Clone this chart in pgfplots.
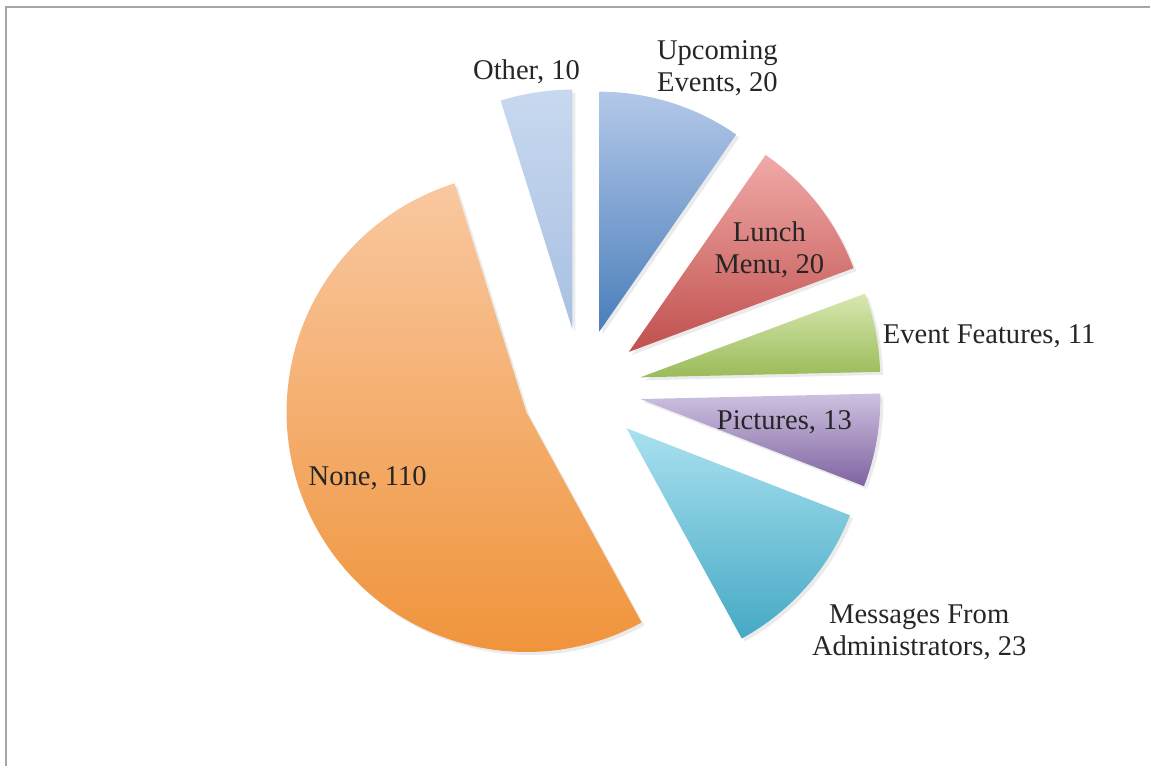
\documentclass[border=0pt]{standalone}
\usepackage{pgfplots}
\pgfplotsset{compat=1.18}
\usepackage{fontspec}
\setmainfont{Liberation Serif}

\definecolor{upT}{HTML}{B3C8E8}\definecolor{upB}{HTML}{4A7EBB}
\definecolor{luT}{HTML}{F0AAA8}\definecolor{luB}{HTML}{C0504D}
\definecolor{evT}{HTML}{D7E8B0}\definecolor{evB}{HTML}{9BBB59}
\definecolor{piT}{HTML}{CDC1E0}\definecolor{piB}{HTML}{7F63A1}
\definecolor{meT}{HTML}{A9E1F0}\definecolor{meB}{HTML}{45A9C4}
\definecolor{noT}{HTML}{F9C8A0}\definecolor{noB}{HTML}{EF9034}
\definecolor{otT}{HTML}{C8D8EF}\definecolor{otB}{HTML}{A8C0E2}
\definecolor{txt}{HTML}{262626}
\definecolor{frame}{HTML}{A6A6A6}

% exploded slice: apex moved 60 units out along the bisector, radius 240 units (=120pt)
\newcommand\slicepath[2]{(axis cs:{582+60*cos((#1+#2)/2)},{378+60*sin((#1+#2)/2)}) -- ++(#1:120pt) arc[start angle=#1,end angle=#2,radius=120pt] -- cycle}

\begin{document}
\begin{tikzpicture}
% values, clockwise from 12 o'clock
\def\vUp{20}\def\vLu{20}\def\vEv{11}\def\vPi{13}\def\vMe{23}\def\vNo{110}\def\vOt{10}
\pgfmathsetmacro\tot{\vUp+\vLu+\vEv+\vPi+\vMe+\vNo+\vOt}
\pgfmathsetmacro\aA{90}
\pgfmathsetmacro\aB{\aA-\vUp/\tot*360}
\pgfmathsetmacro\aC{\aB-\vLu/\tot*360}
\pgfmathsetmacro\aD{\aC-\vEv/\tot*360}
\pgfmathsetmacro\aE{\aD-\vPi/\tot*360}
\pgfmathsetmacro\aF{\aE-\vMe/\tot*360}
\pgfmathsetmacro\aG{\aF-\vNo/\tot*360}
\pgfmathsetmacro\aH{\aG-\vOt/\tot*360}
\begin{axis}[
	scale only axis,
	width=575.5pt,
	height=383.5pt,
	xmin=0, xmax=1151,
	ymin=0, ymax=767,
	hide axis,
	clip=false
	]
	\path (axis cs:0,0) rectangle (axis cs:1151,767);
	\draw[frame,line width=1pt] (axis cs:6,0) -- (axis cs:6,760) -- (axis cs:1151,760);

	% soft shadows
	\fill[black,opacity=0.08,xshift=1.5pt,yshift=-1.5pt] \slicepath{\aA}{\aB};
	\fill[black,opacity=0.08,xshift=1.5pt,yshift=-1.5pt] \slicepath{\aB}{\aC};
	\fill[black,opacity=0.08,xshift=1.5pt,yshift=-1.5pt] \slicepath{\aC}{\aD};
	\fill[black,opacity=0.08,xshift=1.5pt,yshift=-1.5pt] \slicepath{\aD}{\aE};
	\fill[black,opacity=0.08,xshift=1.5pt,yshift=-1.5pt] \slicepath{\aE}{\aF};
	\fill[black,opacity=0.08,xshift=1.5pt,yshift=-1.5pt] \slicepath{\aF}{\aG};
	\fill[black,opacity=0.08,xshift=1.5pt,yshift=-1.5pt] \slicepath{\aG}{\aH};

	\shade[top color=upT,bottom color=upB] \slicepath{\aA}{\aB};
	\shade[top color=luT,bottom color=luB] \slicepath{\aB}{\aC};
	\shade[top color=evT,bottom color=evB] \slicepath{\aC}{\aD};
	\shade[top color=piT,bottom color=piB] \slicepath{\aD}{\aE};
	\shade[top color=meT,bottom color=meB] \slicepath{\aE}{\aF};
	\shade[top color=noT,bottom color=noB] \slicepath{\aF}{\aG};
	\shade[top color=otT,bottom color=otB] \slicepath{\aG}{\aH};

	\begin{scope}[every node/.style={text=txt,align=center,font=\fontsize{14.3}{16}\selectfont}]
	\node at (axis cs:527,695) {Other, 10};
	\node at (axis cs:718,699) {Upcoming\\Events, 20};
	\node at (axis cs:770,517) {Lunch\\Menu, 20};
	\node at (axis cs:990,430) {Event Features, 11};
	\node at (axis cs:785,344) {Pictures, 13};
	\node at (axis cs:920,134) {Messages From\\Administrators, 23};
	\node at (axis cs:368,288) {None, 110};
	\end{scope}
\end{axis}
\end{tikzpicture}
\end{document}
